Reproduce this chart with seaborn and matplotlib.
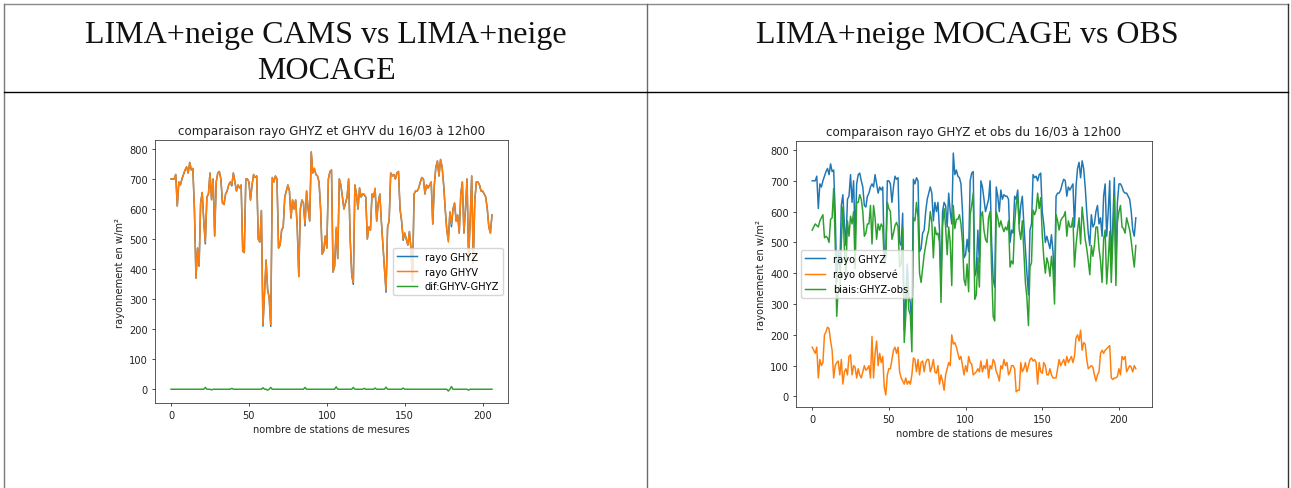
import numpy as np
import matplotlib
matplotlib.use("Agg")
import matplotlib.pyplot as plt
from matplotlib.lines import Line2D
import seaborn as sns

# ---- data ----
# right chart: MOCAGE GHYZ and observed radiation, 212 stations
ghyz_mocage = [
    700, 700, 700, 715, 610, 690, 680, 700, 715, 730,
    740, 720, 755, 730, 735, 600, 370, 470, 410, 620,
    655, 560, 490, 640, 650, 720, 630, 700, 510, 690,
    720, 725, 700, 680, 620, 615, 650, 660, 680, 690,
    680, 720, 690, 660, 680, 670, 680, 460, 455, 700,
    700, 690, 630, 680, 715, 705, 710, 500, 490, 595,
    215, 320, 430, 330, 305, 215, 705, 690, 710, 700,
    470, 480, 530, 540, 600, 640, 660, 680, 660, 570,
    630, 600, 630, 540, 375, 600, 630, 620, 550, 660,
    600, 560, 790, 720, 735, 715, 710, 690, 600, 450,
    460, 510, 470, 700, 725, 730, 390, 410, 540, 435,
    700, 680, 640, 600, 620, 640, 700, 500, 380, 355,
    680, 650, 600, 670, 640, 655, 650, 650, 640, 500,
    540, 530, 650, 640, 670, 560, 620, 650, 560, 480,
    400, 330, 540, 560, 720, 710, 715, 700, 720, 725,
    600, 560, 500, 520, 500, 480, 525, 470, 360, 650,
    660, 660, 670, 690, 705, 700, 650, 680, 670, 680,
    690, 550, 680, 740, 760, 710, 765, 740, 680, 600,
    530, 490, 590, 550, 560, 600, 620, 560, 580, 520,
    650, 690, 520, 600, 700, 430, 560, 710, 420, 630,
    690, 690, 680, 665, 660, 660, 650, 640, 600, 540,
    520, 580,
]

obs = [
    160, 150, 140, 160, 60, 120, 100, 110, 200, 210,
    225, 220, 180, 150, 60, 100, 110, 115, 70, 120,
    40, 80, 90, 70, 130, 135, 70, 100, 95, 60,
    90, 70, 60, 80, 100, 85, 90, 100, 60, 195,
    60, 140, 180, 100, 140, 110, 130, 30, 5, 70,
    90, 90, 120, 150, 160, 140, 160, 80, 60, 50,
    40, 60, 40, 50, 40, 70, 125, 120, 80, 120,
    70, 110, 115, 80, 110, 120, 120, 80, 95, 120,
    80, 75, 100, 40, 70, 50, 20, 70, 90, 110,
    100, 200, 170, 175, 160, 140, 120, 130, 100, 70,
    100, 80, 130, 110, 105, 70, 75, 80, 90, 80,
    115, 80, 100, 90, 120, 60, 100, 90, 120, 110,
    80, 70, 50, 100, 90, 120, 100, 110, 70, 80,
    100, 100, 90, 15, 20, 20, 110, 80, 90, 110,
    80, 100, 120, 125, 115, 120, 110, 40, 110, 80,
    75, 110, 100, 70, 70, 90, 70, 60, 60, 60,
    90, 120, 100, 110, 120, 100, 130, 110, 120, 130,
    110, 130, 190, 200, 180, 215, 150, 175, 170, 120,
    90, 95, 100, 95, 70, 50, 70, 80, 140, 150,
    140, 150, 155, 160, 165, 60, 55, 60, 60, 65,
    90, 70, 130, 120, 130, 80, 90, 100, 95, 80,
    100, 90,
]

# left chart: CAMS run, 207 stations
ghyv_cams = [
    700, 700, 700, 715, 610, 690, 680, 700, 715, 730,
    740, 720, 755, 730, 735, 600, 370, 470, 410, 620,
    655, 560, 490, 640, 650, 720, 630, 700, 510, 690,
    720, 725, 700, 620, 615, 650, 660, 680, 690,
    680, 720, 690, 660, 680, 670, 680, 460, 455, 700,
    700, 690, 630, 680, 715, 705, 710, 500, 490, 595,
    215, 320, 430, 330, 305, 215, 705, 690, 710, 700,
    470, 480, 530, 540, 640, 660, 680, 660, 570,
    630, 600, 630, 540, 375, 600, 630, 620, 550, 660,
    600, 560, 790, 720, 735, 715, 710, 690, 600, 450,
    460, 510, 470, 700, 725, 730, 390, 410, 540, 435,
    700, 680, 640, 600, 620, 640, 700, 500, 380, 355,
    680, 650, 600, 670, 640, 650, 650, 640, 500,
    540, 530, 650, 640, 670, 560, 620, 650, 560, 480,
    400, 330, 540, 560, 720, 710, 715, 700, 720, 725,
    600, 560, 500, 520, 500, 480, 525, 470, 360, 650,
    660, 660, 670, 690, 705, 700, 650, 680, 670, 680,
    690, 550, 680, 740, 760, 710, 765, 740, 680, 600,
    530, 490, 590, 550, 600, 620, 560, 580, 520,
    650, 690, 520, 600, 700, 430, 560, 710, 420, 630,
    690, 690, 680, 660, 660, 650, 640, 600, 540,
    520, 580,
]
# GHYV-GHYZ differences (mostly zero)
dif_pos = [22, 26, 39, 59, 62, 64, 86, 106, 117, 124, 131, 138, 149, 178, 180, 191]
dif_val = [6, -2, 3, 5, -3, 6, 6, 8, 6, 3, 4, 7, 4, -6, 9, -3]

titles = ["comparaison rayo GHYZ et GHYV du 16/03 à 12h00",
          "comparaison rayo GHYZ et obs du 16/03 à 12h00"]
header_left = ["LIMA+neige CAMS vs LIMA+neige", "MOCAGE"]
header_right = "LIMA+neige MOCAGE vs OBS"
xlabel = "nombre de stations de mesures"
ylabel = "rayonnement en w/m²"

# ---- build series ----
ghyv_cams = np.array(ghyv_cams, dtype=float)
dif = np.zeros(len(ghyv_cams))
dif[dif_pos] = dif_val
ghyz_cams = ghyv_cams - dif
x_left = np.arange(len(ghyv_cams))

ghyz_mocage = np.array(ghyz_mocage, dtype=float)
obs = np.array(obs, dtype=float)
biais = ghyz_mocage - obs
x_right = np.arange(len(ghyz_mocage))

W, H = 1291, 489
fig = plt.figure(figsize=(W / 100, H / 100), dpi=100)
fig.patch.set_facecolor("white")


def px_axes(l, t, r, b):
    return fig.add_axes([l / W, 1 - b / H, (r - l) / W, (b - t) / H])


def px_line(x0, y0, x1, y1, color, lw=1.0):
    fig.add_artist(Line2D([x0 / W, x1 / W], [1 - y0 / H, 1 - y1 / H],
                          transform=fig.transFigure, color=color, lw=lw))


# table borders
px_line(4, 5, 1288, 5, "#8a8a8a")
px_line(4, 5, 4, 489, "#7a7a7a")
px_line(647, 5, 647, 489, "#6a6a6a")
px_line(1288, 5, 1288, 489, "#333333")
px_line(4, 93, 1288, 93, "#000000")

serif = ["Liberation Serif", "DejaVu Serif"]
fig.text(326 / W, 1 - 43 / H, header_left[0], ha="center",
         va="baseline", family=serif, fontsize=23, color="#111111")
fig.text(326 / W, 1 - 79 / H, header_left[1], ha="center",
         va="baseline", family=serif, fontsize=23, color="#111111")
fig.text(967.5 / W, 1 - 43 / H, header_right, ha="center",
         va="baseline", family=serif, fontsize=23, color="#111111")

s = 0.715
lw = 1.5 * s
c_blue, c_orange, c_green = "#1f77b4", "#ff7f0e", "#2ca02c"

ax1 = px_axes(155, 141, 508, 404)
ax2 = px_axes(796, 142, 1152, 408)

sns.lineplot(x=x_left, y=ghyz_cams, ax=ax1, color=c_blue, lw=lw, label="rayo GHYZ")
sns.lineplot(x=x_left, y=ghyv_cams, ax=ax1, color=c_orange, lw=lw, label="rayo GHYV")
sns.lineplot(x=x_left, y=dif, ax=ax1, color=c_green, lw=lw, label="dif:GHYV-GHYZ")

sns.lineplot(x=x_right, y=ghyz_mocage, ax=ax2, color=c_blue, lw=lw, label="rayo GHYZ")
sns.lineplot(x=x_right, y=obs, ax=ax2, color=c_orange, lw=lw, label="rayo observé")
sns.lineplot(x=x_right, y=biais, ax=ax2, color=c_green, lw=lw, label="biais:GHYZ-obs")

for ax, title, loc in [(ax1, titles[0], "center right"), (ax2, titles[1], "center left")]:
    ax.set_title(title, fontsize=12 * s, pad=6 * s, color="#222222")
    ax.set_xlabel(xlabel, fontsize=10 * s, labelpad=4 * s, color="#222222")
    ax.set_ylabel(ylabel, fontsize=10 * s, labelpad=4 * s, color="#222222")
    ax.set_xticks([0, 50, 100, 150, 200])
    ax.set_yticks(range(0, 801, 100))
    ax.tick_params(labelsize=10 * s, length=3.5 * s, width=0.8 * s, pad=3.5 * s,
                   colors="#222222")
    for sp in ax.spines.values():
        sp.set_linewidth(0.8 * s)
        sp.set_color("#333333")
    ax.legend(loc=loc, fontsize=10 * s, framealpha=0.8, borderpad=0.4,
              handlelength=2.0)
    ax.margins(x=0.05, y=0.05)

fig.savefig("out.png", dpi=100)
